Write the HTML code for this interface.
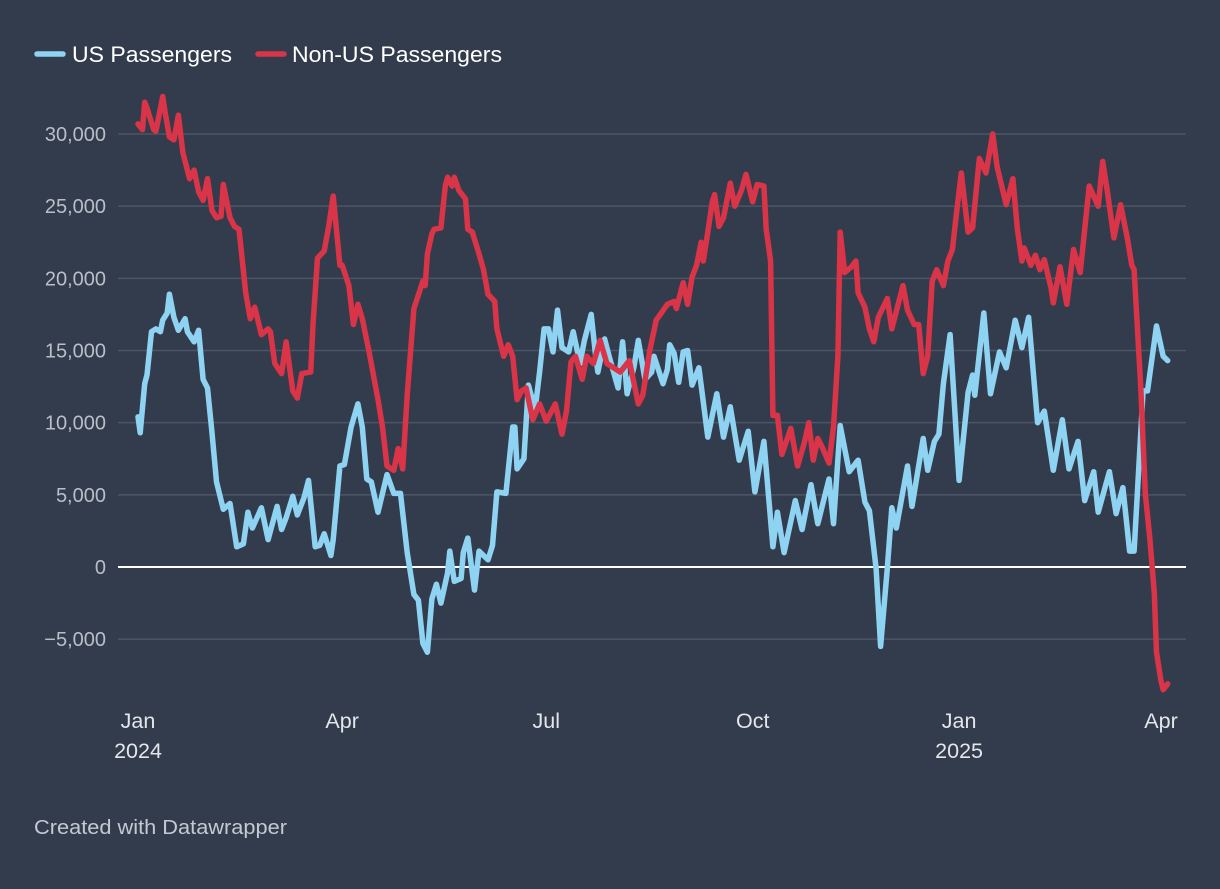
<!DOCTYPE html>
<html><head><meta charset="utf-8"><style>
html,body{margin:0;padding:0;background:#333c4c;}
body{width:1220px;height:884px;overflow:hidden;font-family:"Liberation Sans",Arial,sans-serif;}
svg text{font-family:"Liberation Sans",Arial,sans-serif;}
</style></head><body>
<svg id="chart" width="1220" height="884" xmlns="http://www.w3.org/2000/svg">
<rect x="0" y="0" width="1220" height="884" fill="#333c4c"/>
<g>
<g>
<line x1="37" y1="54" x2="63" y2="54" stroke="#8fd3f2" stroke-width="5.5" stroke-linecap="round"/>
<text x="72" y="62" font-size="22.5" fill="#ffffff" textLength="160" lengthAdjust="spacingAndGlyphs">US Passengers</text></g>
<g>
<line x1="258" y1="54" x2="284" y2="54" stroke="#d93447" stroke-width="5.5" stroke-linecap="round"/>
<text x="292" y="62" font-size="22.5" fill="#ffffff" textLength="210" lengthAdjust="spacingAndGlyphs">Non-US Passengers</text></g>
</g>
<g id="grid"></g>
<g id="yaxis"></g>
<g id="xaxis"></g>
<g id="series"></g>
<text x="34" y="834" font-size="20.5" fill="#c4cad3" textLength="253" lengthAdjust="spacingAndGlyphs">Created with Datawrapper</text>
</svg>
<script>
const yTicks=[-5000,0,5000,10000,15000,20000,25000,30000];
const yTickLabels=["\u22125,000","0","5,000","10,000","15,000","20,000","25,000","30,000"];
const xTickDays=[0,91,182,274,366,456];
const xTickLabels=["Jan","Apr","Jul","Oct","Jan","Apr"];
const xTickYears=["2024","","","","2025",""];
const usDays=[0,1,3,4,6,8,10,11,13,14,16,18,21,22,25,27,29,31,33,35,38,41,44,47,49,51,55,58,62,64,66,69,71,74,76,79,81,83,86,87,90,92,95,98,100,102,104,107,111,114,117,120,123,125,127,129,131,133,135,138,139,141,144,145,147,150,152,156,158,160,164,167,168,169,172,174,177,179,181,183,185,187,189,192,194,197,199,202,204,205,208,210,214,216,218,221,223,226,229,230,234,236,237,239,241,243,245,247,250,254,258,261,264,268,272,275,279,283,285,288,293,296,300,303,308,310,313,317,321,324,326,329,331,334,336,338,343,345,350,352,355,357,359,362,366,370,372,373,377,380,384,387,391,394,397,401,404,408,412,415,419,422,426,428,433,436,439,442,444,448,450,454,457,459];
const usValues=[10400,9300,12700,13300,16300,16500,16300,17100,17600,18900,17300,16400,17200,16300,15600,16400,13000,12400,9300,5900,4000,4400,1400,1600,3800,2700,4100,1900,4200,2600,3400,4900,3600,4800,6000,1400,1500,2300,800,1900,7000,7100,9700,11300,9700,6100,5900,3800,6400,5100,5100,1000,-1900,-2300,-5300,-5900,-2200,-1200,-2500,-400,1100,-1000,-800,1000,2000,-1600,1100,500,1500,5200,5100,9700,9700,6800,7500,12600,10900,13500,16500,16500,14900,17800,15200,14900,16300,14100,15700,17500,14600,13500,15800,14600,12400,15600,12000,13800,15700,13000,13500,14600,12700,13700,15400,14800,12800,14900,15000,12600,13800,9000,12000,9000,11100,7400,9400,5200,8700,1400,3800,1000,4600,2600,5700,3000,6100,3000,9800,6600,7400,4500,3900,-100,-5500,-100,4100,2700,7000,4200,8900,6700,8700,9200,12700,16100,6000,12100,13300,11900,17600,12000,14900,13800,17100,15200,17300,10000,10800,6700,10200,6800,8700,4600,6600,3800,6600,3700,5500,1100,1100,12200,12200,16700,14600,14300];
const nonUsDays=[0,2,3,4,7,8,11,12,14,16,18,20,23,25,27,29,31,33,35,37,38,41,43,45,48,50,52,55,58,59,61,64,66,69,71,73,77,78,80,83,85,87,90,91,94,96,98,100,103,107,109,111,114,116,118,120,123,127,128,129,131,132,135,137,138,140,141,143,146,147,149,152,154,156,159,160,163,165,167,169,171,173,176,179,182,186,189,191,193,195,198,200,203,206,209,212,215,219,223,225,228,231,236,239,240,243,245,247,249,251,252,254,256,257,259,261,264,266,269,271,274,276,279,280,282,283,285,287,291,294,297,299,301,303,305,308,310,312,313,315,318,320,321,324,326,328,330,334,336,341,343,346,348,350,352,354,356,359,361,363,365,367,370,372,375,378,381,383,387,390,392,394,395,398,400,402,404,407,408,411,414,417,420,422,424,428,430,432,435,438,441,443,444,447,449,451,453,454,456,457,459];
const nonUsValues=[30700,30300,32200,31800,30300,30200,32600,31600,29800,29600,31300,28700,26900,27500,26000,25400,26900,24700,24200,24300,26500,24200,23600,23400,19000,17200,18000,16100,16500,16300,14100,13400,15600,12200,11700,13400,13500,16800,21400,21900,23600,25700,20900,20900,19500,16800,18200,17200,14900,11600,9700,7000,6700,8200,6800,11900,17900,19800,19500,21700,23100,23400,23500,26400,27000,26400,27000,26100,25500,23400,23200,21700,20600,18900,18400,16500,14600,15400,14600,11600,12200,12400,10200,11300,10100,11300,9200,10800,14200,14600,13000,14600,14100,15700,14100,13800,13500,14300,11300,11900,14900,17100,18200,18400,17900,19700,18200,20100,20900,22500,21200,23200,25300,25800,23600,24200,26600,25000,26100,27200,25300,26500,26400,23400,21200,10500,10500,7800,9600,7000,8600,10000,7400,8900,8300,7200,9700,14600,23200,20400,20800,21200,19000,18000,16500,15600,17300,18600,16500,19500,17800,16800,16800,13400,14600,19800,20600,19500,21200,22000,24700,27300,23200,23500,28300,27300,30000,27700,25100,26900,23400,21200,22100,20900,21600,20600,21300,19300,18300,20800,18200,22000,20400,23400,26400,25000,28100,26100,22800,25100,22800,20900,20600,12400,5100,2000,-1800,-5900,-7900,-8500,-8100];

const NS="http://www.w3.org/2000/svg";
function x(d){return 138+d*(1161-138)/456;}
function y(v){return 567-v*433/30000;}
function mk(tag,attrs,parent){const e=document.createElementNS(NS,tag);for(const k in attrs)e.setAttribute(k,attrs[k]);parent.appendChild(e);return e;}
const grid=document.getElementById('grid'),ya=document.getElementById('yaxis'),xa=document.getElementById('xaxis'),ser=document.getElementById('series');
yTicks.forEach((t,i)=>{
  if(t!==0){const l=mk('line',{x1:118,x2:1186,y1:y(t),y2:y(t),stroke:'#4c5566','stroke-width':1.5},grid);
  
  }
  const tx=mk('text',{x:106,y:y(t)+7,'text-anchor':'end','font-size':20,fill:'#b9bfc9'},ya);
  tx.textContent=yTickLabels[i];
  
  
});
xTickDays.forEach((d,i)=>{
  const t=mk('text',{x:x(d),y:728,'text-anchor':'middle','font-size':21.5,fill:'#e3e6ea'},xa);
  t.textContent=xTickLabels[i];
  
  
  if(xTickYears[i]){const t2=mk('text',{x:x(d),y:758,'text-anchor':'middle','font-size':21.5,fill:'#e3e6ea'},xa);
  t2.textContent=xTickYears[i];
  
  }
});
function line(days,vals,color,name){
  const pts=days.map((d,i)=>x(d).toFixed(1)+','+y(vals[i]).toFixed(1)).join(' ');
  const p=mk('polyline',{points:pts,fill:'none',stroke:color,'stroke-width':5.5,'stroke-linejoin':'round','stroke-linecap':'round'},ser);
  
  
}
line(usDays,usValues,'#8fd3f2','us-passengers-line');
line(nonUsDays,nonUsValues,'#d93447','non-us-passengers-line');
const z=mk('line',{x1:118,x2:1186,y1:y(0),y2:y(0),stroke:'#ffffff','stroke-width':2},grid);


</script>
</body></html>
